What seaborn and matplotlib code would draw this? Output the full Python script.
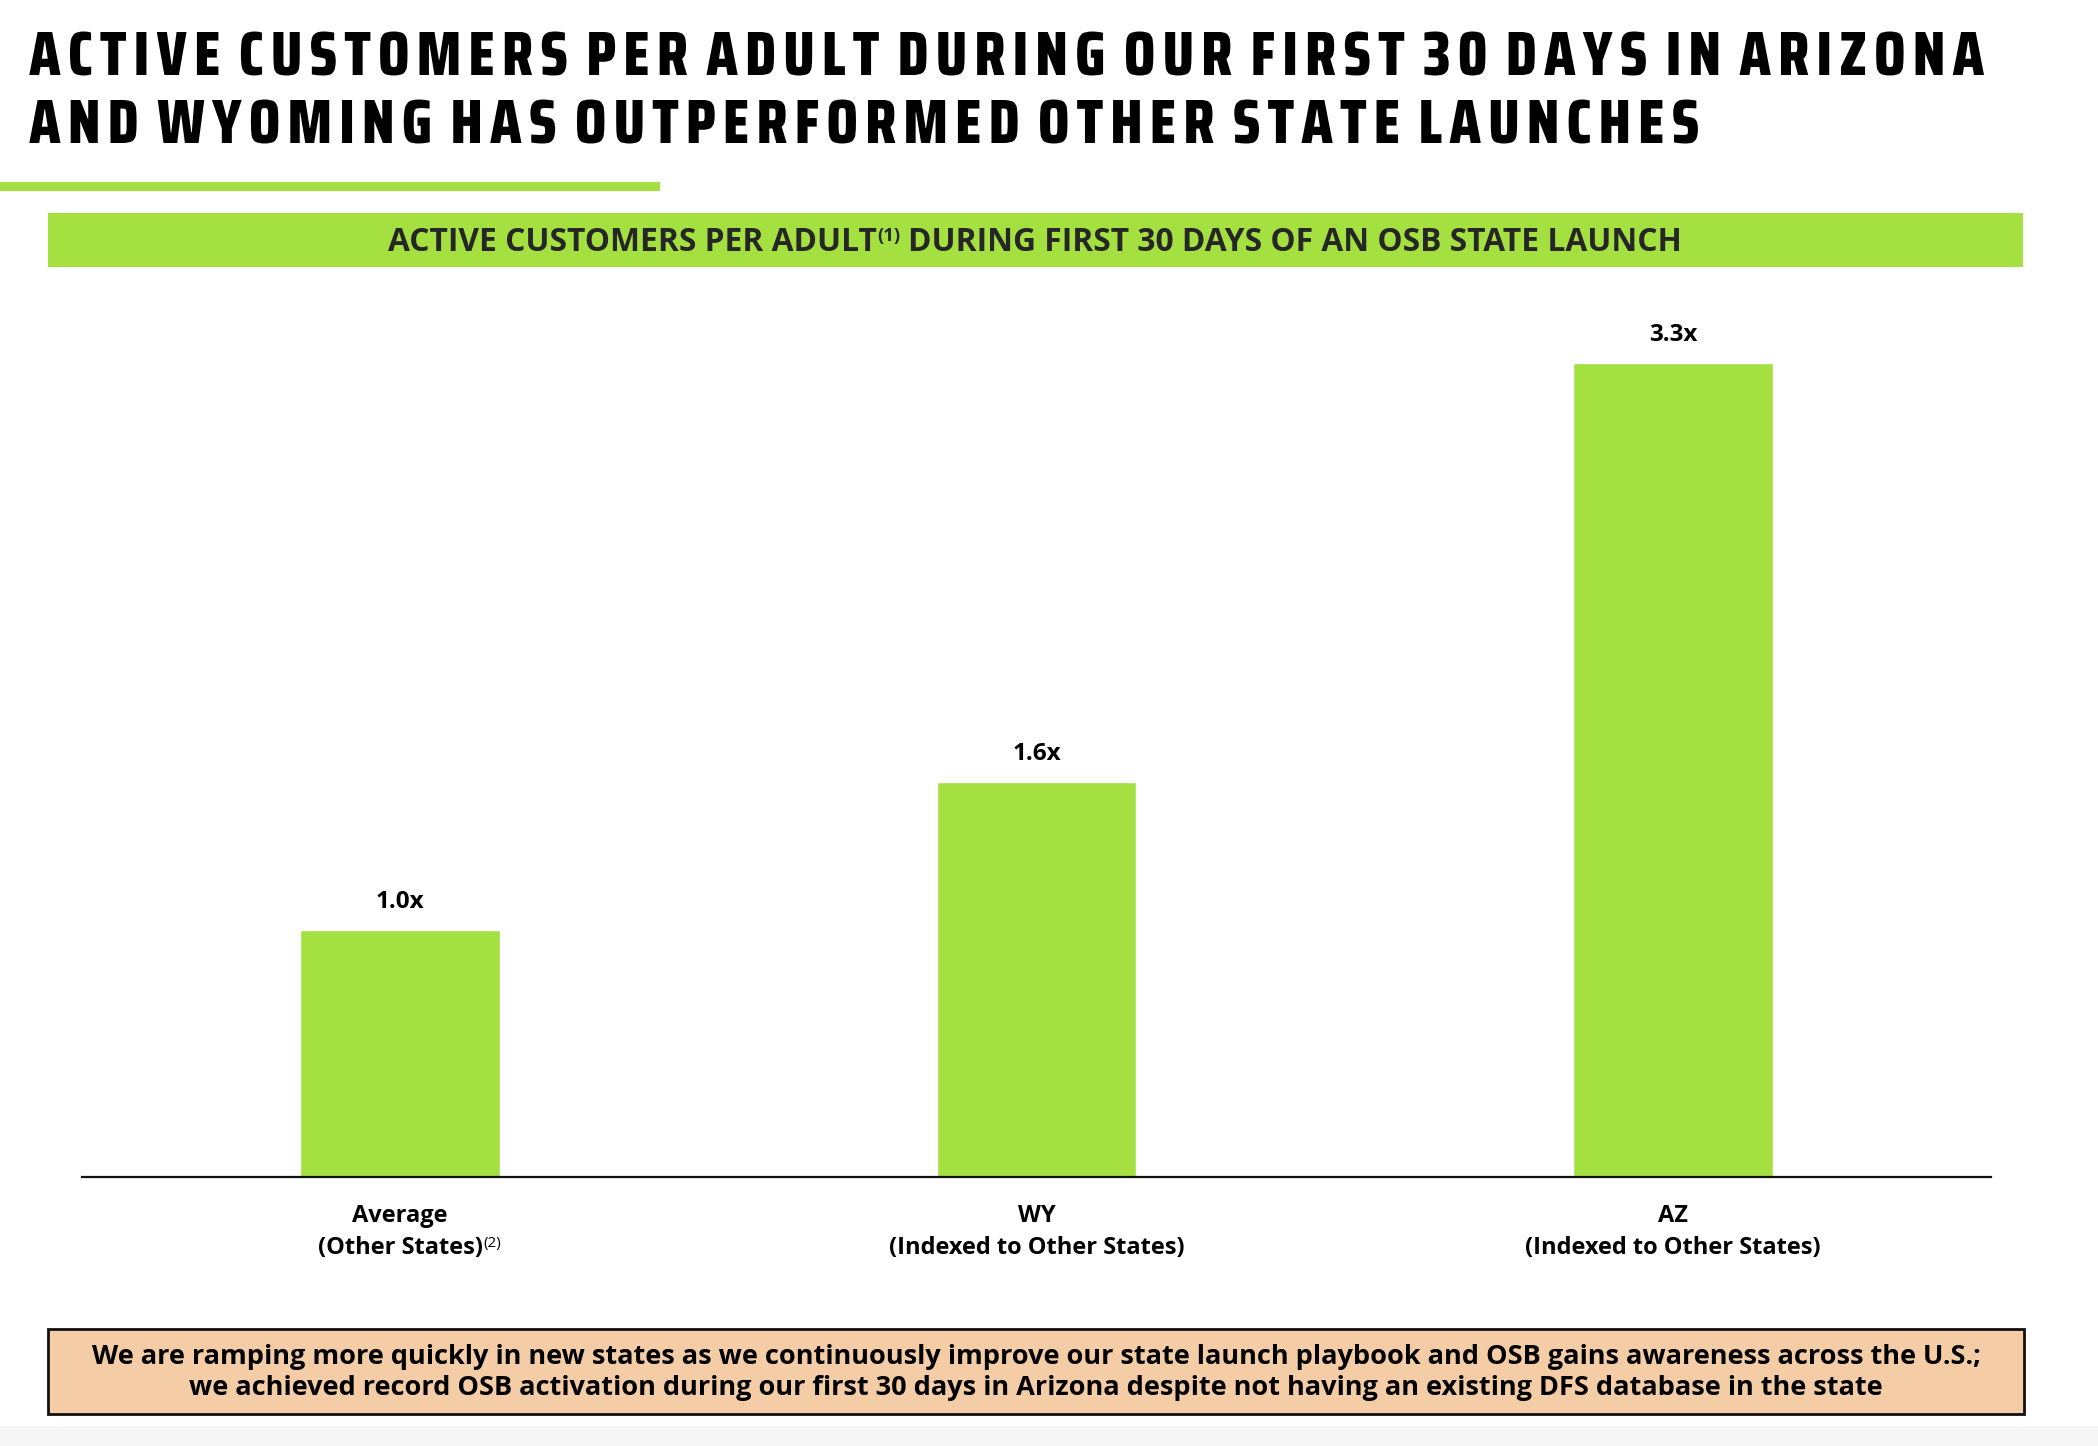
import matplotlib
matplotlib.use("Agg")
import matplotlib.pyplot as plt
from matplotlib.patches import Rectangle
from matplotlib.patheffects import AbstractPathEffect
from matplotlib.path import Path
from matplotlib.transforms import Affine2D
import numpy as np
import seaborn as sns
import pandas as pd

# data
categories = ["Average\n(Other States)", "WY\n(Indexed to Other States)", "AZ\n(Indexed to Other States)"]
values = [1.0, 1.6, 3.3]
value_labels = ["1.0x", "1.6x", "3.3x"]

title_lines = ["ACTIVE CUSTOMERS PER ADULT DURING OUR FIRST 30 DAYS IN ARIZONA",
               "AND WYOMING HAS OUTPERFORMED OTHER STATE LAUNCHES"]
header_left = "ACTIVE CUSTOMERS PER ADULT"
header_sup = "(1)"
header_right = "DURING FIRST 30 DAYS OF AN OSB STATE LAUNCH"
avg_sup = "(2)"
footer_lines = ["We are ramping more quickly in new states as we continuously improve our state launch playbook and OSB gains awareness across the U.S.;",
                "we achieved record OSB activation during our first 30 days in Arizona despite not having an existing DFS database in the state"]

GREEN = "#a4e140"
PEACH = "#f4cca6"
W, H = 2098, 1446
BODY = ["Open Sans", "DejaVu Sans"]
TITLE = ["Saira Condensed", "DejaVu Sans"]

sns.set_theme(style="white")
plt.rcParams["font.family"] = BODY


class Tracking(AbstractPathEffect):
    """spread the glyphs of a text apart (letter spacing, in pixels)"""

    def __init__(self, track):
        super().__init__()
        self.track = track

    def draw_path(self, renderer, gc, tpath, affine, rgbFace=None):
        verts = affine.transform(tpath.vertices)
        codes = tpath.codes
        out = verts.copy()
        starts = list(np.flatnonzero(codes == Path.MOVETO)) + [len(codes)]
        glyph, cur_max = -1, -np.inf
        for a, b in zip(starts[:-1], starts[1:]):
            keep = codes[a:b] != Path.CLOSEPOLY
            xs = verts[a:b, 0][keep]
            if xs.min() > cur_max - 2:
                glyph += 1
                cur_max = xs.max()
            else:
                cur_max = max(cur_max, xs.max())
            out[a:b, 0] += glyph * self.track
        renderer.draw_path(gc, Path(out, codes), Affine2D(), rgbFace)


def fx(x):
    return x / W


def fy(y):
    # y measured from the top in pixels
    return 1 - y / H


fig = plt.figure(figsize=(W / 100, H / 100), dpi=100)
renderer = fig.canvas.get_renderer()

# title, letter spaced
titles = []
for i, line in enumerate(title_lines):
    t = fig.text(fx(29), fy(75 + 68 * i), line, family=TITLE, weight=800,
                 fontsize=45, color="black", ha="left", va="baseline")
    titles.append(t)
w0 = titles[0].get_window_extent(renderer).width
n0 = len(title_lines[0].replace(" ", ""))
track = (1958 - w0) / (n0 - 1)
for t in titles:
    t.set_path_effects([Tracking(track)])

# green rule under the title
fig.add_artist(Rectangle((0, fy(191)), fx(660), 9 / H, transform=fig.transFigure,
                         color=GREEN, lw=0))

# header bar
fig.add_artist(Rectangle((fx(48), fy(267)), fx(1975), 54 / H, transform=fig.transFigure,
                         color=GREEN, lw=0))
hs = 22.9
t1 = fig.text(0, fy(242.5), header_left, fontsize=hs, weight="bold", va="center", ha="left")
t2 = fig.text(0, fy(236), header_sup, fontsize=hs * 0.58, weight="bold", va="center", ha="left")
t3 = fig.text(0, fy(242.5), header_right, fontsize=hs, weight="bold", va="center", ha="left")
gap = hs * 1.389 * 0.27
ws = [t.get_window_extent(renderer).width for t in (t1, t2, t3)]
total = ws[0] + ws[1] + ws[2] + gap
x0 = 1035 - total / 2
t1.set_x(fx(x0))
t2.set_x(fx(x0 + ws[0] + 1))
t3.set_x(fx(x0 + ws[0] + ws[1] + gap))

# bars
ax = fig.add_axes([fx(82), fy(1177), fx(1909), (1177 - 300) / H])
df = pd.DataFrame({"cat": categories, "val": values})
sns.barplot(data=df, x="cat", y="val", color=GREEN, saturation=1, width=0.314, ax=ax)
ax.set_xlim(-0.5, 2.5)
ax.set_ylim(0, 877 / 246.8)
ax.set_xlabel("")
ax.set_ylabel("")
ax.set_yticks([])
for s in ["top", "left", "right"]:
    ax.spines[s].set_visible(False)
ax.spines["bottom"].set_color("#111111")
ax.spines["bottom"].set_linewidth(1.6)
ax.tick_params(axis="x", length=0, pad=19.5)
for lab in ax.get_xticklabels():
    lab.set_fontsize(17)
    lab.set_fontweight("bold")
    lab.set_linespacing(1.42)
    lab.set_color("black")

for bar, txt in zip(ax.patches, value_labels):
    ax.annotate(txt, (bar.get_x() + bar.get_width() / 2, bar.get_height()),
                xytext=(0, 20), textcoords="offset points", ha="center", va="center",
                fontsize=17.5, weight="bold", color="black")

# superscript after "(Other States)"
fig.canvas.draw()
bb = ax.get_xticklabels()[0].get_window_extent(renderer)
fig.text(bb.x1 / W + fx(1), (bb.y0 + 13) / H, avg_sup, fontsize=11, weight="normal",
         ha="left", va="baseline", color="black")

# footer box
fig.add_artist(Rectangle((fx(48), fy(1414)), fx(1976), 85 / H, transform=fig.transFigure,
                         facecolor=PEACH, edgecolor="#111111", lw=2))
for i, line in enumerate(footer_lines):
    fig.text(fx(1036), fy(1357 + 31 * i), line, fontsize=19.5, weight="bold",
             ha="center", va="center", color="black")

fig.add_artist(Rectangle((0, 0), 1, 20 / H, transform=fig.transFigure,
                         color="#f7f7f7", lw=0))

fig.savefig("out.png", dpi=100)
